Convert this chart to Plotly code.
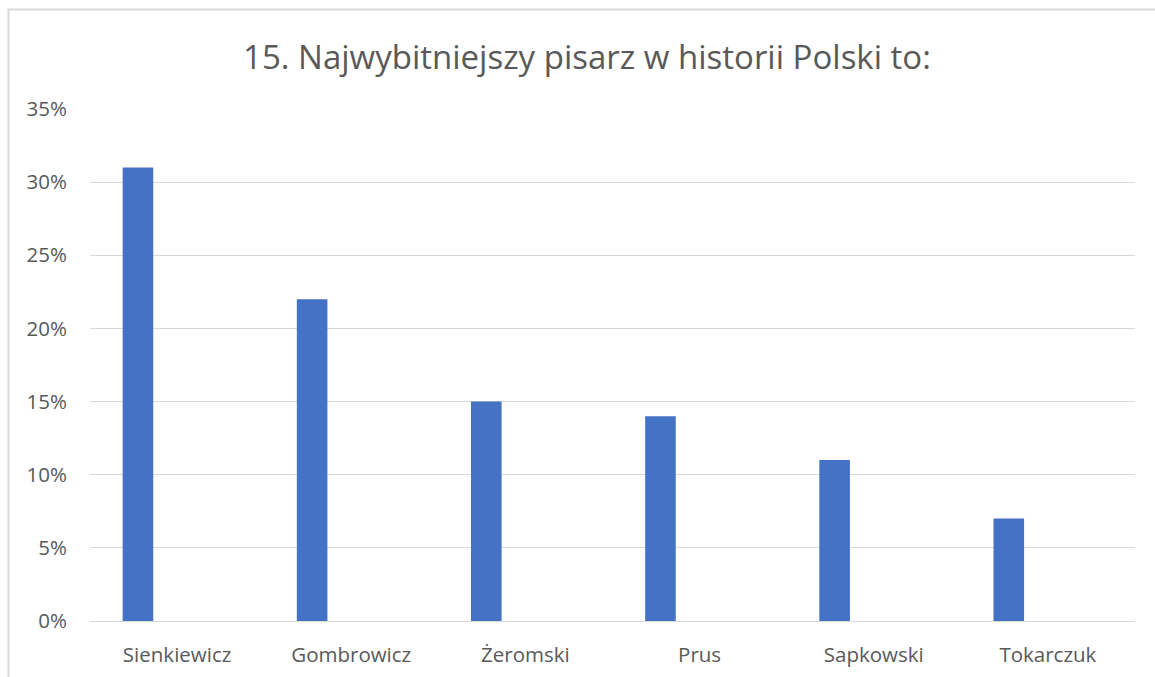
import plotly.graph_objects as go

categories = ["Sienkiewicz", "Gombrowicz", "Żeromski", "Prus", "Sapkowski", "Tokarczuk"]
values = [0.31, 0.22, 0.15, 0.14, 0.11, 0.07]
y_ticks = [0, 0.05, 0.10, 0.15, 0.20, 0.25, 0.30, 0.35]

TEXT = "#595959"
GRID = "#d9d9d9"
FONT = "Open Sans"

fig = go.Figure()
fig.add_trace(go.Bar(
    x=categories, y=values,
    offset=-0.3125, width=0.1757,
    marker=dict(color="#4472C4", line=dict(width=0)),
    hovertemplate="%{x}: %{y:.0%}<extra></extra>",
))

bx0 = (8.5 - 90) / 1045
bx1 = (1300 - 90) / 1045
by0 = (621.5 - 800) / 512.5
by1 = (621.5 - 9.5) / 512.5

fig.update_layout(
    width=1155, height=677,
    margin=dict(l=90, r=20, t=109, b=55.5, autoexpand=False),
    paper_bgcolor="white", plot_bgcolor="white",
    showlegend=False,
    font=dict(family=FONT, color=TEXT),
    title=dict(text="15. Najwybitniejszy pisarz w historii Polski to:",
               x=0.4756, xref="paper", xanchor="center",
               y=(677 - 57) / 677, yanchor="middle",
               font=dict(size=33, color=TEXT, family=FONT)),
    xaxis=dict(type="category", showgrid=False, showline=False, zeroline=False,
               automargin=False,
               tickfont=dict(size=20.5, color=TEXT), ticks="", ticklabelstandoff=19),
    yaxis=dict(range=[0, 0.35], tickvals=y_ticks, tickformat=".0%",
               automargin=False,
               showgrid=True, gridcolor=GRID, gridwidth=1,
               zeroline=True, zerolinecolor=GRID, zerolinewidth=1,
               showline=False, ticks="",
               tickfont=dict(size=20.5, color=TEXT), ticklabelstandoff=22),
    shapes=[dict(type="path", xref="paper", yref="paper",
                 path=f"M {bx0},{by0} L {bx0},{by1} L {bx1},{by1}",
                 line=dict(color=GRID, width=2), layer="below")],
)

fig.write_html("out.html", config={"displayModeBar": False},
               post_script="document.body.style.margin='0';document.body.style.padding='0';")
